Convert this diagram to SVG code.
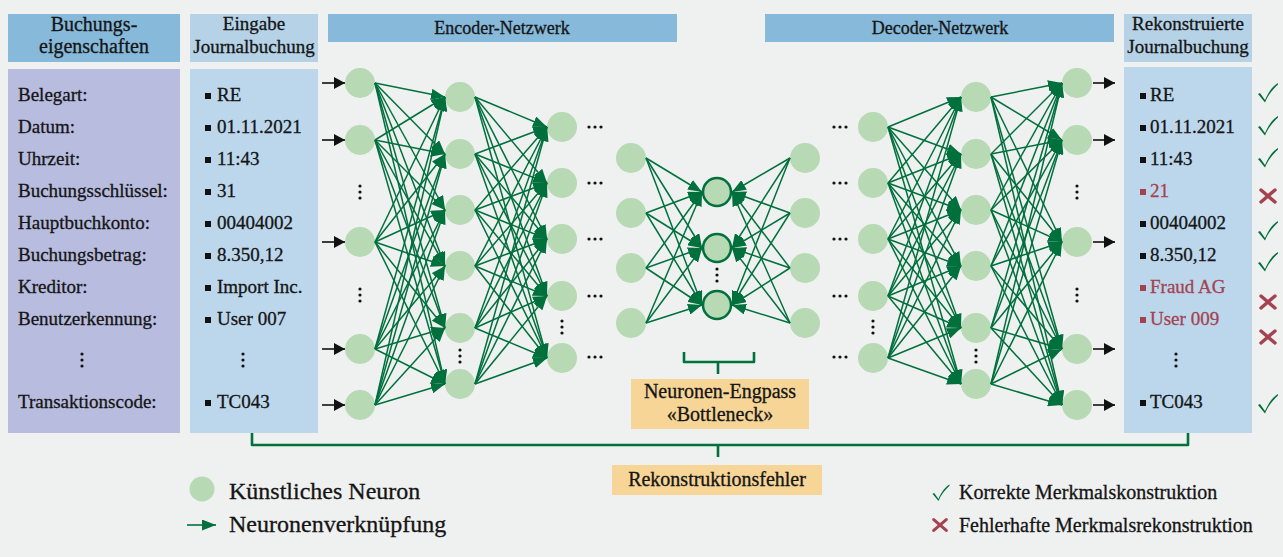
<svg xmlns="http://www.w3.org/2000/svg" width="1283" height="557" viewBox="0 0 1283 557">
  <defs>
    <marker id="ah" viewBox="0 0 14 11" markerWidth="14" markerHeight="11" refX="14" refY="5.5" markerUnits="userSpaceOnUse" orient="auto">
      <path d="M0,0 L14,5.5 L0,11 z" fill="#00703c"/>
    </marker>
    <marker id="ahk" viewBox="0 0 11 12" markerWidth="11" markerHeight="12" refX="11" refY="6" markerUnits="userSpaceOnUse" orient="auto">
      <path d="M0,0 L11,6 L0,12 z" fill="#111"/>
    </marker>
    <path id="tick" d="M-10,1 L-8,0 L-3,7 C1,-2 5,-7 10,-10 L10,-8.6 C5,-4 0,2 -3,9.5 Z" fill="#00703c"/>
    <path id="cross" d="M-7,-6 L7,6 M7,-6 L-7,6" stroke="#a4434f" stroke-width="3.4" stroke-linecap="round" fill="none"/>
    <g id="vdots" fill="#111"><circle cx="0" cy="-6" r="1.6"/><circle cx="0" cy="0" r="1.6"/><circle cx="0" cy="6" r="1.6"/></g>
    <g id="hdots" fill="#111"><circle cx="-6" cy="0" r="1.6"/><circle cx="0" cy="0" r="1.6"/><circle cx="6" cy="0" r="1.6"/></g>
  </defs>
  <style>
    text { font-family: "Liberation Serif", "Times New Roman", serif; fill: #151515; stroke: #151515; stroke-width: 0.3; }
    .hd { font-size: 19px; text-anchor: middle; }
    .lb { font-size: 19px; }
    .red { fill: #a4434f; stroke: #a4434f; }
    .n { fill: #b7d9b3; }
    .nb { fill: #b7d9b3; stroke: #00703c; stroke-width: 2.5; }
    .c line { stroke: #00703c; stroke-width: 1.5; marker-end: url(#ah); }
    .io line { stroke: #111; stroke-width: 1.6; marker-end: url(#ahk); }
    .br { fill: none; stroke: #00703c; stroke-width: 2.6; stroke-linejoin: round; }
  </style>

  <rect width="1283" height="557" fill="#eff0f0"/>

  <!-- column headers -->
  <g id="hdr-eigenschaften">
    <rect x="8" y="14" width="172" height="48" fill="#86b9da"/>
    <text class="hd" x="94" y="31" style="font-size:20px">Buchungs-</text>
    <text class="hd" x="94" y="53" style="font-size:20px">eigenschaften</text>
  </g>
  <g id="hdr-eingabe">
    <rect x="190" y="14" width="128" height="48" fill="#b5d2e6"/>
    <text class="hd" x="254" y="30">Eingabe</text>
    <text class="hd" x="254" y="53">Journalbuchung</text>
  </g>
  <g id="hdr-encoder">
    <rect x="328" y="14" width="349" height="28" fill="#86b9da"/>
    <text class="hd" x="502" y="34" style="font-size:18px">Encoder-Netzwerk</text>
  </g>
  <g id="hdr-decoder">
    <rect x="765" y="14" width="349" height="28" fill="#86b9da"/>
    <text class="hd" x="940" y="34" style="font-size:18px">Decoder-Netzwerk</text>
  </g>
  <g id="hdr-rekonstruiert">
    <rect x="1124" y="14" width="128" height="48" fill="#b5d2e6"/>
    <text class="hd" x="1188" y="30">Rekonstruierte</text>
    <text class="hd" x="1188" y="53">Journalbuchung</text>
  </g>

  <!-- attribute names -->
  <g id="col-eigenschaften">
    <rect x="8" y="69" width="172" height="364" fill="#b8bcdf"/>
    <text class="lb" x="18" y="101">Belegart:</text>
    <text class="lb" x="18" y="133">Datum:</text>
    <text class="lb" x="18" y="165">Uhrzeit:</text>
    <text class="lb" x="18" y="197">Buchungsschlüssel:</text>
    <text class="lb" x="18" y="229">Hauptbuchkonto:</text>
    <text class="lb" x="18" y="261">Buchungsbetrag:</text>
    <text class="lb" x="18" y="293">Kreditor:</text>
    <text class="lb" x="18" y="325">Benutzerkennung:</text>
    <use href="#vdots" x="82" y="360"/>
    <text class="lb" x="18" y="408">Transaktionscode:</text>
  </g>

  <!-- input journal entry -->
  <g id="col-eingabe">
    <rect x="190" y="69" width="128" height="364" fill="#bcd7ec"/>
    <g fill="#111">
      <rect x="205" y="93" width="6" height="6"/>
      <rect x="205" y="125" width="6" height="6"/>
      <rect x="205" y="157" width="6" height="6"/>
      <rect x="205" y="189" width="6" height="6"/>
      <rect x="205" y="221" width="6" height="6"/>
      <rect x="205" y="253" width="6" height="6"/>
      <rect x="205" y="285" width="6" height="6"/>
      <rect x="205" y="317" width="6" height="6"/>
      <rect x="205" y="400" width="6" height="6"/>
    </g>
    <text class="lb" x="217" y="101">RE</text>
    <text class="lb" x="217" y="133">01.11.2021</text>
    <text class="lb" x="217" y="165">11:43</text>
    <text class="lb" x="217" y="197">31</text>
    <text class="lb" x="217" y="229">00404002</text>
    <text class="lb" x="217" y="261">8.350,12</text>
    <text class="lb" x="217" y="293">Import Inc.</text>
    <text class="lb" x="217" y="325">User 007</text>
    <use href="#vdots" x="243" y="360"/>
    <text class="lb" x="217" y="408">TC043</text>
  </g>

  <!-- reconstructed journal entry -->
  <g id="col-rekonstruiert">
    <rect x="1124" y="67" width="128" height="366" fill="#bcd7ec"/>
    <g fill="#111">
      <rect x="1140" y="93" width="6" height="6"/>
      <rect x="1140" y="125" width="6" height="6"/>
      <rect x="1140" y="157" width="6" height="6"/>
      <rect x="1140" y="221" width="6" height="6"/>
      <rect x="1140" y="253" width="6" height="6"/>
      <rect x="1140" y="400" width="6" height="6"/>
    </g>
    <g fill="#a4434f">
      <rect x="1140" y="189" width="6" height="6"/>
      <rect x="1140" y="285" width="6" height="6"/>
      <rect x="1140" y="317" width="6" height="6"/>
    </g>
    <text class="lb" x="1150" y="101">RE</text>
    <text class="lb" x="1150" y="133">01.11.2021</text>
    <text class="lb" x="1150" y="165">11:43</text>
    <text class="lb red" x="1150" y="197">21</text>
    <text class="lb" x="1150" y="229">00404002</text>
    <text class="lb" x="1150" y="261">8.350,12</text>
    <text class="lb red" x="1150" y="293">Fraud AG</text>
    <text class="lb red" x="1150" y="325">User 009</text>
    <use href="#vdots" x="1176" y="360"/>
    <text class="lb" x="1150" y="408">TC043</text>
  </g>

  <!-- per-feature result marks -->
  <g id="marks">
    <use href="#tick" x="1268" y="93"/>
    <use href="#tick" x="1268" y="126"/>
    <use href="#tick" x="1268" y="158"/>
    <use href="#cross" x="1268" y="196"/>
    <use href="#tick" x="1268" y="231"/>
    <use href="#tick" x="1268" y="262"/>
    <use href="#cross" x="1268" y="302"/>
    <use href="#cross" x="1268" y="337"/>
    <use href="#tick" x="1268" y="404"/>
  </g>

  <!-- neurons -->
  <g id="enc-l1">
    <g id="e1n1"><circle class="n" cx="360" cy="83" r="15"/></g>
    <g id="e1n2"><circle class="n" cx="360" cy="140" r="15"/></g>
    <g id="e1n3"><circle class="n" cx="360" cy="242" r="15"/></g>
    <g id="e1n4"><circle class="n" cx="360" cy="349" r="15"/></g>
    <g id="e1n5"><circle class="n" cx="360" cy="405" r="15"/></g>
    <use href="#vdots" x="360" y="192"/>
    <use href="#vdots" x="360" y="295"/>
  </g>
  <g id="enc-l2">
    <g id="e2n1"><circle class="n" cx="460" cy="97" r="15"/></g>
    <g id="e2n2"><circle class="n" cx="460" cy="154" r="15"/></g>
    <g id="e2n3"><circle class="n" cx="460" cy="210" r="15"/></g>
    <g id="e2n4"><circle class="n" cx="460" cy="266" r="15"/></g>
    <g id="e2n5"><circle class="n" cx="460" cy="328" r="15"/></g>
    <g id="e2n6"><circle class="n" cx="460" cy="384" r="15"/></g>
    <use href="#vdots" x="460" y="356"/>
  </g>
  <g id="enc-l3">
    <g id="e3n1"><circle class="n" cx="562" cy="127" r="15"/></g>
    <g id="e3n2"><circle class="n" cx="562" cy="183" r="15"/></g>
    <g id="e3n3"><circle class="n" cx="562" cy="239" r="15"/></g>
    <g id="e3n4"><circle class="n" cx="562" cy="296" r="15"/></g>
    <g id="e3n5"><circle class="n" cx="562" cy="358" r="15"/></g>
    <use href="#vdots" x="562" y="327"/>
    <use href="#hdots" x="595" y="127"/>
    <use href="#hdots" x="595" y="183"/>
    <use href="#hdots" x="595" y="239"/>
    <use href="#hdots" x="595" y="296"/>
    <use href="#hdots" x="595" y="357"/>
  </g>
  <g id="enc-l4">
    <g id="e4n1"><circle class="n" cx="631" cy="158" r="15"/></g>
    <g id="e4n2"><circle class="n" cx="631" cy="213" r="15"/></g>
    <g id="e4n3"><circle class="n" cx="631" cy="268" r="15"/></g>
    <g id="e4n4"><circle class="n" cx="631" cy="323" r="15"/></g>
  </g>
  <g id="bottleneck">
    <g id="bn1"><circle class="nb" cx="717" cy="192" r="14"/></g>
    <g id="bn2"><circle class="nb" cx="717" cy="248" r="14"/></g>
    <g id="bn3"><circle class="nb" cx="717" cy="305" r="14"/></g>
    <use href="#vdots" x="717" y="275"/>
  </g>
  <g id="dec-l1">
    <g id="d1n1"><circle class="n" cx="805" cy="158" r="15"/></g>
    <g id="d1n2"><circle class="n" cx="805" cy="213" r="15"/></g>
    <g id="d1n3"><circle class="n" cx="805" cy="268" r="15"/></g>
    <g id="d1n4"><circle class="n" cx="805" cy="323" r="15"/></g>
  </g>
  <g id="dec-l2">
    <g id="d2n1"><circle class="n" cx="873" cy="127" r="15"/></g>
    <g id="d2n2"><circle class="n" cx="873" cy="183" r="15"/></g>
    <g id="d2n3"><circle class="n" cx="873" cy="239" r="15"/></g>
    <g id="d2n4"><circle class="n" cx="873" cy="296" r="15"/></g>
    <g id="d2n5"><circle class="n" cx="873" cy="358" r="15"/></g>
    <use href="#vdots" x="873" y="327"/>
    <use href="#hdots" x="840" y="127"/>
    <use href="#hdots" x="840" y="183"/>
    <use href="#hdots" x="840" y="239"/>
    <use href="#hdots" x="840" y="296"/>
    <use href="#hdots" x="840" y="357"/>
  </g>
  <g id="dec-l3">
    <g id="d3n1"><circle class="n" cx="976" cy="97" r="15"/></g>
    <g id="d3n2"><circle class="n" cx="976" cy="154" r="15"/></g>
    <g id="d3n3"><circle class="n" cx="976" cy="210" r="15"/></g>
    <g id="d3n4"><circle class="n" cx="976" cy="266" r="15"/></g>
    <g id="d3n5"><circle class="n" cx="976" cy="328" r="15"/></g>
    <g id="d3n6"><circle class="n" cx="976" cy="384" r="15"/></g>
    <use href="#vdots" x="976" y="356"/>
  </g>
  <g id="dec-l4">
    <g id="d4n1"><circle class="n" cx="1077" cy="83" r="15"/></g>
    <g id="d4n2"><circle class="n" cx="1077" cy="140" r="15"/></g>
    <g id="d4n3"><circle class="n" cx="1077" cy="242" r="15"/></g>
    <g id="d4n4"><circle class="n" cx="1077" cy="349" r="15"/></g>
    <g id="d4n5"><circle class="n" cx="1077" cy="405" r="15"/></g>
    <use href="#vdots" x="1077" y="192"/>
    <use href="#vdots" x="1077" y="295"/>
  </g>

  <!-- connectors -->
  <g id="connectors">
    <g class="io">
      <line x1="322" y1="83" x2="345" y2="83"/>
      <line x1="322" y1="140" x2="345" y2="140"/>
      <line x1="322" y1="242" x2="345" y2="242"/>
      <line x1="322" y1="349" x2="345" y2="349"/>
      <line x1="322" y1="405" x2="345" y2="405"/>
      <line x1="1093" y1="83" x2="1115" y2="83"/>
      <line x1="1093" y1="140" x2="1115" y2="140"/>
      <line x1="1093" y1="242" x2="1115" y2="242"/>
      <line x1="1093" y1="349" x2="1115" y2="349"/>
      <line x1="1093" y1="405" x2="1115" y2="405"/>
    </g>
    <g class="c">
      <!-- encoder layer 1 -> 2 -->
      <line x1="375" y1="83" x2="445" y2="97"/><line x1="375" y1="83" x2="445" y2="154"/><line x1="375" y1="83" x2="445" y2="210"/><line x1="375" y1="83" x2="445" y2="266"/><line x1="375" y1="83" x2="445" y2="328"/><line x1="375" y1="83" x2="445" y2="384"/>
      <line x1="375" y1="140" x2="445" y2="97"/><line x1="375" y1="140" x2="445" y2="154"/><line x1="375" y1="140" x2="445" y2="210"/><line x1="375" y1="140" x2="445" y2="266"/><line x1="375" y1="140" x2="445" y2="328"/><line x1="375" y1="140" x2="445" y2="384"/>
      <line x1="375" y1="242" x2="445" y2="97"/><line x1="375" y1="242" x2="445" y2="154"/><line x1="375" y1="242" x2="445" y2="210"/><line x1="375" y1="242" x2="445" y2="266"/><line x1="375" y1="242" x2="445" y2="328"/><line x1="375" y1="242" x2="445" y2="384"/>
      <line x1="375" y1="349" x2="445" y2="97"/><line x1="375" y1="349" x2="445" y2="154"/><line x1="375" y1="349" x2="445" y2="210"/><line x1="375" y1="349" x2="445" y2="266"/><line x1="375" y1="349" x2="445" y2="328"/><line x1="375" y1="349" x2="445" y2="384"/>
      <line x1="375" y1="405" x2="445" y2="97"/><line x1="375" y1="405" x2="445" y2="154"/><line x1="375" y1="405" x2="445" y2="210"/><line x1="375" y1="405" x2="445" y2="266"/><line x1="375" y1="405" x2="445" y2="328"/><line x1="375" y1="405" x2="445" y2="384"/>
      <!-- encoder layer 2 -> 3 -->
      <line x1="475" y1="97" x2="547" y2="127"/><line x1="475" y1="97" x2="547" y2="183"/><line x1="475" y1="97" x2="547" y2="239"/><line x1="475" y1="97" x2="547" y2="296"/><line x1="475" y1="97" x2="547" y2="358"/>
      <line x1="475" y1="154" x2="547" y2="127"/><line x1="475" y1="154" x2="547" y2="183"/><line x1="475" y1="154" x2="547" y2="239"/><line x1="475" y1="154" x2="547" y2="296"/><line x1="475" y1="154" x2="547" y2="358"/>
      <line x1="475" y1="210" x2="547" y2="127"/><line x1="475" y1="210" x2="547" y2="183"/><line x1="475" y1="210" x2="547" y2="239"/><line x1="475" y1="210" x2="547" y2="296"/><line x1="475" y1="210" x2="547" y2="358"/>
      <line x1="475" y1="266" x2="547" y2="127"/><line x1="475" y1="266" x2="547" y2="183"/><line x1="475" y1="266" x2="547" y2="239"/><line x1="475" y1="266" x2="547" y2="296"/><line x1="475" y1="266" x2="547" y2="358"/>
      <line x1="475" y1="328" x2="547" y2="127"/><line x1="475" y1="328" x2="547" y2="183"/><line x1="475" y1="328" x2="547" y2="239"/><line x1="475" y1="328" x2="547" y2="296"/><line x1="475" y1="328" x2="547" y2="358"/>
      <line x1="475" y1="384" x2="547" y2="127"/><line x1="475" y1="384" x2="547" y2="183"/><line x1="475" y1="384" x2="547" y2="239"/><line x1="475" y1="384" x2="547" y2="296"/><line x1="475" y1="384" x2="547" y2="358"/>
      <!-- encoder output -> bottleneck -->
      <line x1="646" y1="158" x2="702" y2="192"/><line x1="646" y1="158" x2="702" y2="248"/><line x1="646" y1="158" x2="702" y2="305"/>
      <line x1="646" y1="213" x2="702" y2="192"/><line x1="646" y1="213" x2="702" y2="248"/><line x1="646" y1="213" x2="702" y2="305"/>
      <line x1="646" y1="268" x2="702" y2="192"/><line x1="646" y1="268" x2="702" y2="248"/><line x1="646" y1="268" x2="702" y2="305"/>
      <line x1="646" y1="323" x2="702" y2="192"/><line x1="646" y1="323" x2="702" y2="248"/><line x1="646" y1="323" x2="702" y2="305"/>
      <!-- decoder input -> bottleneck -->
      <line x1="790" y1="158" x2="732" y2="192"/><line x1="790" y1="158" x2="732" y2="248"/><line x1="790" y1="158" x2="732" y2="305"/>
      <line x1="790" y1="213" x2="732" y2="192"/><line x1="790" y1="213" x2="732" y2="248"/><line x1="790" y1="213" x2="732" y2="305"/>
      <line x1="790" y1="268" x2="732" y2="192"/><line x1="790" y1="268" x2="732" y2="248"/><line x1="790" y1="268" x2="732" y2="305"/>
      <line x1="790" y1="323" x2="732" y2="192"/><line x1="790" y1="323" x2="732" y2="248"/><line x1="790" y1="323" x2="732" y2="305"/>
      <!-- decoder layer 2 -> 3 -->
      <line x1="888" y1="127" x2="961" y2="97"/><line x1="888" y1="127" x2="961" y2="154"/><line x1="888" y1="127" x2="961" y2="210"/><line x1="888" y1="127" x2="961" y2="266"/><line x1="888" y1="127" x2="961" y2="328"/><line x1="888" y1="127" x2="961" y2="384"/>
      <line x1="888" y1="183" x2="961" y2="97"/><line x1="888" y1="183" x2="961" y2="154"/><line x1="888" y1="183" x2="961" y2="210"/><line x1="888" y1="183" x2="961" y2="266"/><line x1="888" y1="183" x2="961" y2="328"/><line x1="888" y1="183" x2="961" y2="384"/>
      <line x1="888" y1="239" x2="961" y2="97"/><line x1="888" y1="239" x2="961" y2="154"/><line x1="888" y1="239" x2="961" y2="210"/><line x1="888" y1="239" x2="961" y2="266"/><line x1="888" y1="239" x2="961" y2="328"/><line x1="888" y1="239" x2="961" y2="384"/>
      <line x1="888" y1="296" x2="961" y2="97"/><line x1="888" y1="296" x2="961" y2="154"/><line x1="888" y1="296" x2="961" y2="210"/><line x1="888" y1="296" x2="961" y2="266"/><line x1="888" y1="296" x2="961" y2="328"/><line x1="888" y1="296" x2="961" y2="384"/>
      <line x1="888" y1="358" x2="961" y2="97"/><line x1="888" y1="358" x2="961" y2="154"/><line x1="888" y1="358" x2="961" y2="210"/><line x1="888" y1="358" x2="961" y2="266"/><line x1="888" y1="358" x2="961" y2="328"/><line x1="888" y1="358" x2="961" y2="384"/>
      <!-- decoder layer 3 -> 4 -->
      <line x1="991" y1="97" x2="1062" y2="83"/><line x1="991" y1="97" x2="1062" y2="140"/><line x1="991" y1="97" x2="1062" y2="242"/><line x1="991" y1="97" x2="1062" y2="349"/><line x1="991" y1="97" x2="1062" y2="405"/>
      <line x1="991" y1="154" x2="1062" y2="83"/><line x1="991" y1="154" x2="1062" y2="140"/><line x1="991" y1="154" x2="1062" y2="242"/><line x1="991" y1="154" x2="1062" y2="349"/><line x1="991" y1="154" x2="1062" y2="405"/>
      <line x1="991" y1="210" x2="1062" y2="83"/><line x1="991" y1="210" x2="1062" y2="140"/><line x1="991" y1="210" x2="1062" y2="242"/><line x1="991" y1="210" x2="1062" y2="349"/><line x1="991" y1="210" x2="1062" y2="405"/>
      <line x1="991" y1="266" x2="1062" y2="83"/><line x1="991" y1="266" x2="1062" y2="140"/><line x1="991" y1="266" x2="1062" y2="242"/><line x1="991" y1="266" x2="1062" y2="349"/><line x1="991" y1="266" x2="1062" y2="405"/>
      <line x1="991" y1="328" x2="1062" y2="83"/><line x1="991" y1="328" x2="1062" y2="140"/><line x1="991" y1="328" x2="1062" y2="242"/><line x1="991" y1="328" x2="1062" y2="349"/><line x1="991" y1="328" x2="1062" y2="405"/>
      <line x1="991" y1="384" x2="1062" y2="83"/><line x1="991" y1="384" x2="1062" y2="140"/><line x1="991" y1="384" x2="1062" y2="242"/><line x1="991" y1="384" x2="1062" y2="349"/><line x1="991" y1="384" x2="1062" y2="405"/>
    </g>
    <!-- brackets -->
    <path class="br" d="M684,352 V362 H754 V352 M718,362 V374"/>
    <path class="br" d="M252,433 V445 H1188 V433 M718,445 V457"/>
  </g>

  <g id="label-bottleneck">
    <rect x="631" y="379" width="178" height="50" fill="#f6d597"/>
    <text class="hd" x="720" y="398" style="font-size:20px">Neuronen-Engpass</text>
    <text class="hd" x="720" y="421" style="font-size:20px">«Bottleneck»</text>
  </g>
  <g id="label-fehler">
    <rect x="612" y="465" width="210" height="30" fill="#f6d597"/>
    <text class="hd" x="717" y="486" style="font-size:20px">Rekonstruktionsfehler</text>
  </g>

  <!-- legend -->
  <g id="legend">
    <circle class="n" cx="202" cy="489" r="12.5"/>
    <text x="229" y="499" style="font-size:24px">Künstliches Neuron</text>
    <line x1="187" y1="525" x2="216" y2="525" stroke="#00703c" stroke-width="1.6" marker-end="url(#ah)"/>
    <text x="229" y="532" style="font-size:24px">Neuronenverknüpfung</text>
    <use href="#tick" x="941" y="493" transform="translate(941 493) scale(0.85) translate(-941 -493)"/>
    <text x="959" y="499" style="font-size:20px">Korrekte Merkmalskonstruktion</text>
    <use href="#cross" x="940" y="525" transform="translate(940 525) scale(0.9) translate(-940 -525)"/>
    <text x="959" y="532" style="font-size:20px">Fehlerhafte Merkmalsrekonstruktion</text>
  </g>
</svg>
